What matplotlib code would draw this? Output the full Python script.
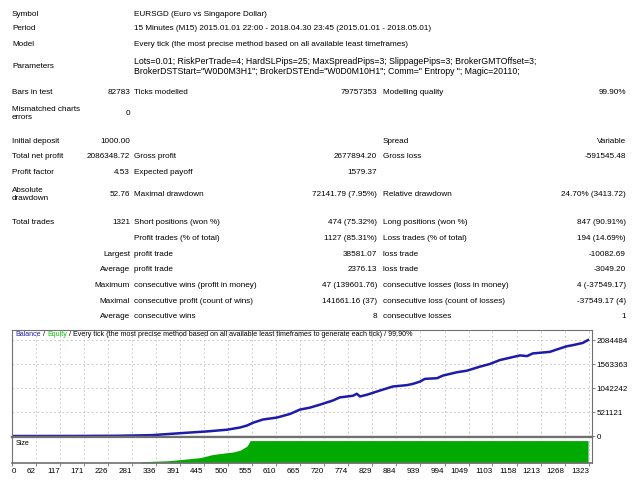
import matplotlib
matplotlib.use("Agg")
import matplotlib.pyplot as plt
import numpy as np

plt.rcParams['font.family'] = ['Liberation Sans', 'DejaVu Sans']

W, H = 640, 480

# report rows: (label col1, value col2, label col3, value col4, label col5, value col6)
header_rows = [
    ("Symbol", "EURSGD (Euro vs Singapore Dollar)"),
    ("Period", "15 Minutes (M15) 2015.01.01 22:00 - 2018.04.30 23:45 (2015.01.01 - 2018.05.01)"),
    ("Model", "Every tick (the most precise method based on all available least timeframes)"),
]
params_lines = [
    "Lots=0.01; RiskPerTrade=4; HardSLPips=25; MaxSpreadPips=3; SlippagePips=3; BrokerGMTOffset=3;",
    "BrokerDSTStart=\"W0D0M3H1\"; BrokerDSTEnd=\"W0D0M10H1\"; Comm=\" Entropy \"; Magic=20110;",
]
stat_rows = [
    ("Initial deposit", "1000.00", "", "", "Spread", "Variable"),
    ("Total net profit", "2086348.72", "Gross profit", "2677894.20", "Gross loss", "-591545.48"),
    ("Profit factor", "4.53", "Expected payoff", "1579.37", "", ""),
    ("Absolute\ndrawdown", "52.76", "Maximal drawdown", "72141.79 (7.95%)", "Relative drawdown", "24.70% (3413.72)"),
]
trade_rows = [
    ("Total trades", "1321", "Short positions (won %)", "474 (75.32%)", "Long positions (won %)", "847 (90.91%)"),
    ("", "", "Profit trades (% of total)", "1127 (85.31%)", "Loss trades (% of total)", "194 (14.69%)"),
    ("", "Largest", "profit trade", "38581.07", "loss trade", "-10082.69"),
    ("", "Average", "profit trade", "2376.13", "loss trade", "-3049.20"),
    ("", "Maximum", "consecutive wins (profit in money)", "47 (139601.76)", "consecutive losses (loss in money)", "4 (-37549.17)"),
    ("", "Maximal", "consecutive profit (count of wins)", "141661.16 (37)", "consecutive loss (count of losses)", "-37549.17 (4)"),
    ("", "Average", "consecutive wins", "8", "consecutive losses", "1"),
]

# balance curve (trade number, balance)
trades = [0, 150, 250, 327, 407, 452, 498, 528, 544, 557, 580, 612, 642, 664, 687,
          710, 740, 755, 785, 794, 801, 817, 847, 876, 908, 922, 938, 949, 977, 990,
          1022, 1045, 1074, 1097, 1120, 1166, 1182, 1195, 1234, 1250, 1273, 1286,
          1309, 1321]
balance = [1000, 2500, 7000, 20000, 73000, 101000, 138000, 187000, 230000, 289000,
           360000, 403000, 482000, 575000, 618000, 683000, 775000, 840000, 876000,
           920000, 861000, 898000, 991000, 1077000, 1107000, 1135000, 1184000,
           1243000, 1258000, 1314000, 1387000, 1421000, 1507000, 1566000, 1652000,
           1753000, 1738000, 1796000, 1830000, 1882000, 1953000, 1975000, 2024000,
           2087348]

# lot size curve
size_trades = [0, 300, 304, 363, 391, 437, 466, 498, 512, 528, 544, 551, 1321]
size_lots = [0, 0, 6, 10, 15, 24, 38, 46, 49, 57, 76, 100, 100]

xtick_vals = [62, 117, 171, 226, 281, 336, 391, 445, 500, 555, 610, 665, 720, 774,
              829, 884, 939, 994, 1049, 1103, 1158, 1213, 1268, 1323]
ytick_vals = [0, 521121, 1042242, 1563363, 2084484]

fig = plt.figure(figsize=(6.4, 4.8), dpi=100)
fig.patch.set_facecolor("white")
FS = 5.9


def put(x, y, s, ha="left", size=FS, **kw):
    fig.text(x / W, 1 - y / H, s, ha=ha, va="center", fontsize=size,
             linespacing=1.3, **kw)


# header
for (lab, val), y in zip(header_rows, [14, 29, 45]):
    put(12, y, lab)
    put(134, y, val)
put(12, 66, "Parameters")
put(134, 61.5, params_lines[0], size=6.35)
put(134, 72, params_lines[1], size=6.35)

put(12, 92.5, "Bars in test")
put(130, 92.5, "82783", ha="right")
put(134, 92.5, "Ticks modelled")
put(377, 92.5, "79757353", ha="right")
put(383, 92.5, "Modelling quality")
put(626, 92.5, "99.90%", ha="right")
put(12, 113.5, "Mismatched charts\nerrors")
put(130, 113.5, "0", ha="right")


def row(r, y):
    c1, c2, c3, c4, c5, c6 = r
    put(12, y, c1)
    put(130, y, c2, ha="right")
    put(134, y, c3)
    put(377, y, c4, ha="right")
    put(383, y, c5)
    put(626, y, c6, ha="right")


for r, y in zip(stat_rows, [141.5, 157, 173, 194.5]):
    row(r, y)
for r, y in zip(trade_rows, [222, 238, 254, 269.5, 285.5, 301.5, 317]):
    row(r, y)

# chart panels
left, right = 12, 592
top, mid, bottom = 330, 437, 463
ax = fig.add_axes([left / W, 1 - mid / H, (right - left) / W, (mid - top) / H])
axs = fig.add_axes([left / W, 1 - bottom / H, (right - left) / W, (bottom - mid) / H])

xmin, xmax = 8, 1330
border = "#707070"
grid_c = "#c0c0c0"

ax.plot(trades, balance, color="#1c1ca8", lw=1.8, solid_joinstyle="round")
ax.set_xlim(xmin, xmax)
ax.set_ylim(-20000, 2305000)
ax.set_xticks(xtick_vals)
ax.set_yticks(ytick_vals)
ax.yaxis.tick_right()
ax.tick_params(axis="x", length=0, labelbottom=False)
ax.tick_params(axis="y", length=2, width=0.6, color=border, labelsize=5.8, pad=1.5)
ax.set_yticklabels([str(v) for v in ytick_vals])
ax.grid(True, color=grid_c, ls=(0, (2, 3)), lw=0.6)

TFS = 5.1
t1 = ax.text(0.006, 0.955, "Balance", transform=ax.transAxes, fontsize=TFS,
             color="#2020b0", va="center", ha="left")
t2 = ax.annotate(" / ", xy=(1, 0.5), xycoords=t1, va="center", ha="left", fontsize=TFS)
t3 = ax.annotate("Equity", xy=(1, 0.5), xycoords=t2, va="center", ha="left",
                 fontsize=TFS, color="#10c010")
ax.annotate(" / Every tick (the most precise method based on all available least "
            "timeframes to generate each tick) / 99.90%", xy=(1, 0.5), xycoords=t3,
            va="center", ha="left", fontsize=TFS)

axs.fill_between(size_trades, size_lots, color="#00aa00", lw=0)
light = [i for i, t in enumerate(size_trades) if t <= 363]
axs.fill_between([size_trades[i] for i in light], [min(size_lots[i], 4) for i in light],
                 color="#80e080", lw=0)
axs.set_xlim(xmin, xmax)
axs.set_ylim(0, 116)
axs.set_yticks([])
axs.set_xticks([xmin] + xtick_vals)
axs.set_xticklabels(["0"] + [str(v) for v in xtick_vals])
axs.tick_params(axis="x", length=2, width=0.6, color=border, labelsize=5.8, pad=1.5)
for i, lbl in enumerate(axs.get_xticklabels()):
    lbl.set_ha("left" if i == 0 else "right")
axs.grid(True, axis="x", color=grid_c, ls=(0, (2, 3)), lw=0.6)
axs.set_axisbelow(True)
axs.text(0.006, 0.75, "Size", transform=axs.transAxes, fontsize=TFS, va="center")

for a in (ax, axs):
    for sp in a.spines.values():
        sp.set_color(border)
        sp.set_linewidth(0.8)
ax.spines["bottom"].set_linewidth(1.6)
axs.spines["top"].set_linewidth(1.6)
axs.spines["bottom"].set_linewidth(1.2)

fig.savefig("out.png", dpi=100, facecolor="white")
